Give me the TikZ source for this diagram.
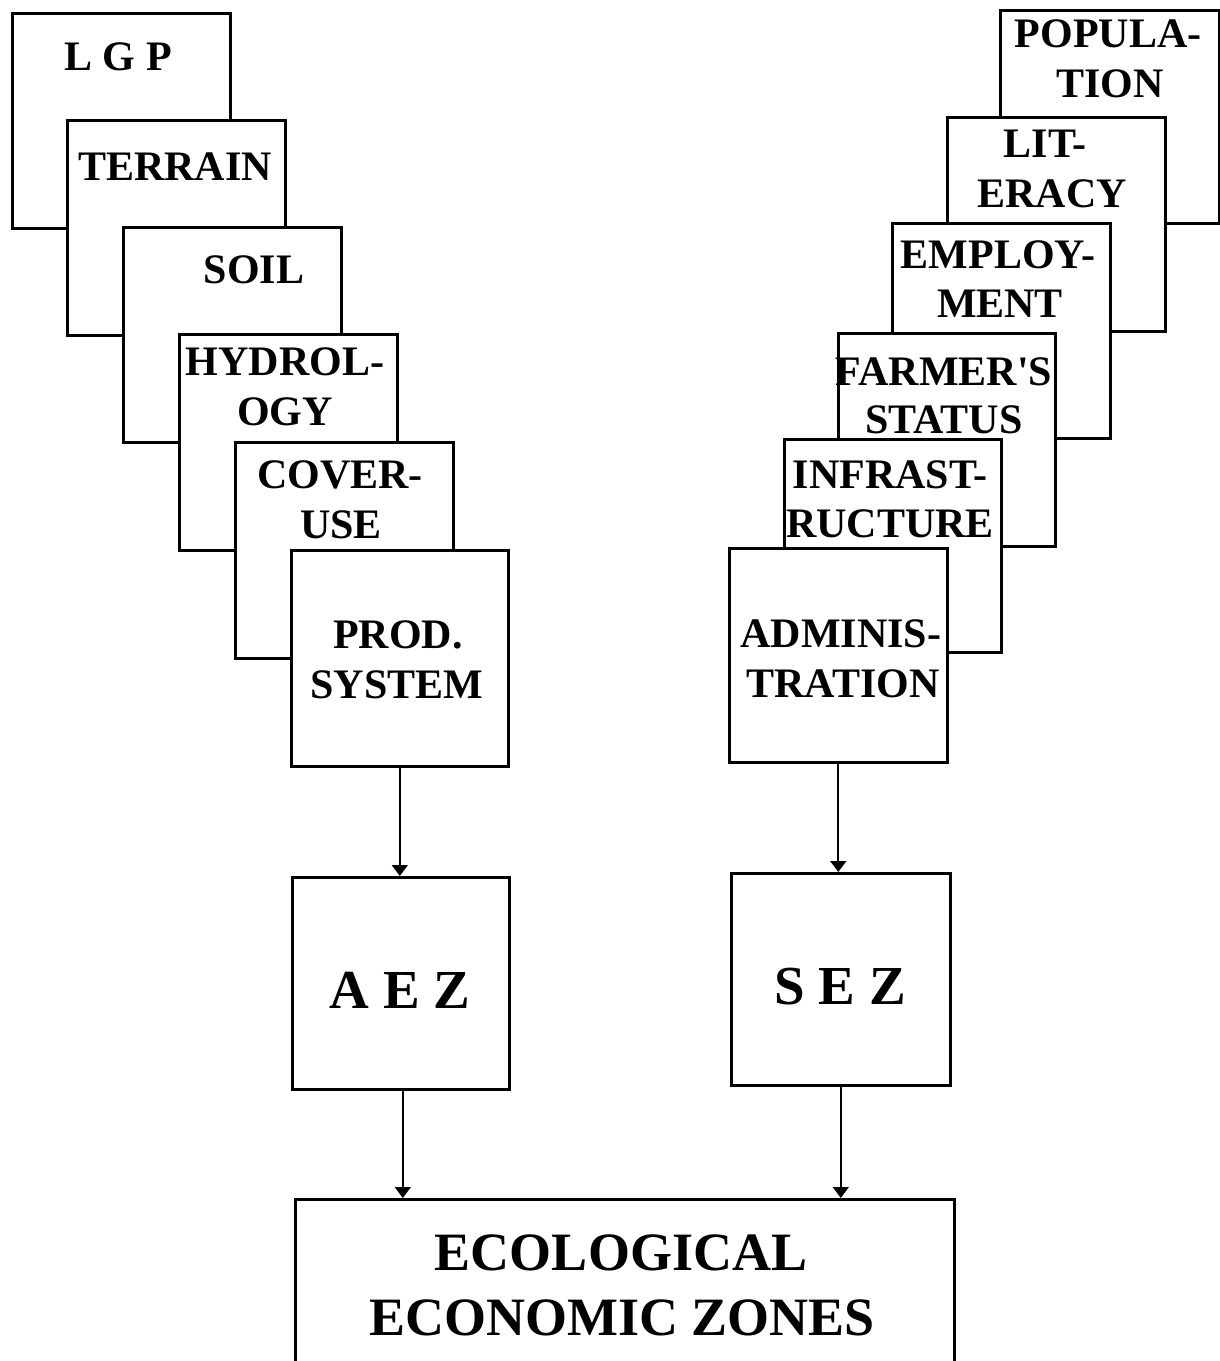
\documentclass[tikz,border=0pt]{standalone}
\usepackage{fontspec}
\setmainfont{Liberation Serif}[Ligatures=TeXOff]
\usetikzlibrary{arrows.meta}
\tikzset{
  box/.style={draw=black, fill=white, line width=2.6pt, rectangle, inner sep=0pt, anchor=north west},
  lbl/.style={font=\bfseries\fontsize{42}{49}\selectfont, anchor=base, inner sep=0pt},
  big/.style={font=\bfseries\fontsize{55}{64}\selectfont, anchor=base, inner sep=0pt},
  eco/.style={font=\bfseries\fontsize{54}{64}\selectfont, anchor=base, inner sep=0pt},
  arr/.style={line width=1.8pt, -{Triangle[length=11pt,width=16pt]}}
}
\begin{document}
\begin{tikzpicture}[x=1pt,y=-1pt]
\useasboundingbox (0,0) rectangle (1220,1361);
% left stack
\node[box, minimum width=218pt, minimum height=215pt] (lgp) at (11,12) {};
\node[lbl] (lgpt) at (118,70) {L G P};
\node[box, minimum width=218pt, minimum height=215pt] (terrain) at (66,119) {};
\node[lbl] (terraint) at (175,180) {TERRAIN};
\node[box, minimum width=218pt, minimum height=215pt] (soil) at (122,226) {};
\node[lbl] (soilt) at (254,283) {SOIL};
\node[box, minimum width=218pt, minimum height=216pt] (hydro) at (178,333) {};
\node[lbl] (hydrot1) at (285,375) {HYDROL-};
\node[lbl] (hydrot2) at (285,425) {OGY};
\node[box, minimum width=218pt, minimum height=216pt] (cover) at (234,441) {};
\node[lbl] (covert1) at (340,488) {COVER-};
\node[lbl] (covert2) at (341,538) {USE};
\node[box, minimum width=217pt, minimum height=216pt] (prod) at (290,549) {};
\node[lbl] (prodt1) at (398,648) {PROD.};
\node[lbl] (prodt2) at (397,698) {SYSTEM};
% right stack
\node[box, minimum width=219pt, minimum height=213pt] (pop) at (999,9) {};
\node[lbl] (popt1) at (1108,47) {POPULA-};
\node[lbl] (popt2) at (1110,97) {TION};
\node[box, minimum width=218pt, minimum height=214pt] (lit) at (946,116) {};
\node[lbl] (litt1) at (1045,157) {LIT-};
\node[lbl] (litt2) at (1052,207) {ERACY};
\node[box, minimum width=218pt, minimum height=215pt] (emp) at (891,222) {};
\node[lbl] (empt1) at (998,268) {EMPLOY-};
\node[lbl] (empt2) at (1000,317) {MENT};
\node[box, minimum width=217pt, minimum height=213pt] (farm) at (837,332) {};
\node[lbl] (farmt1) at (944,385) {FARMER'S};
\node[lbl] (farmt2) at (944,433) {STATUS};
\node[box, minimum width=217pt, minimum height=213pt] (infra) at (783,438) {};
\node[lbl] (infrat1) at (890,488) {INFRAST-};
\node[lbl] (infrat2) at (890,537) {RUCTURE};
\node[box, minimum width=218pt, minimum height=214pt] (admin) at (728,547) {};
\node[lbl] (admint1) at (841,647) {ADMINIS-};
\node[lbl] (admint2) at (843,697) {TRATION};
% zones
\node[box, minimum width=217pt, minimum height=212pt] (aez) at (291,876) {};
\node[big] (aezt) at (400,1008) {A E Z};
\node[box, minimum width=219pt, minimum height=212pt] (sez) at (730,872) {};
\node[big] (sezt) at (840,1004) {S E Z};
\node[box, minimum width=659pt, minimum height=175pt] (ecoz) at (294,1198) {};
\node[eco] (ecot1) at (621,1270) {ECOLOGICAL};
\node[eco] (ecot2) at (622,1335) {ECONOMIC ZONES};
% arrows
\draw[arr] (prod.south) -- (prod.south |- aez.north);
\draw[arr] (admin.south) -- (admin.south |- sez.north);
\draw[arr] ([xshift=2pt]aez.south) -- ([xshift=2pt]aez.south |- ecoz.north);
\draw[arr] (sez.south) -- (sez.south |- ecoz.north);
\end{tikzpicture}
\end{document}
